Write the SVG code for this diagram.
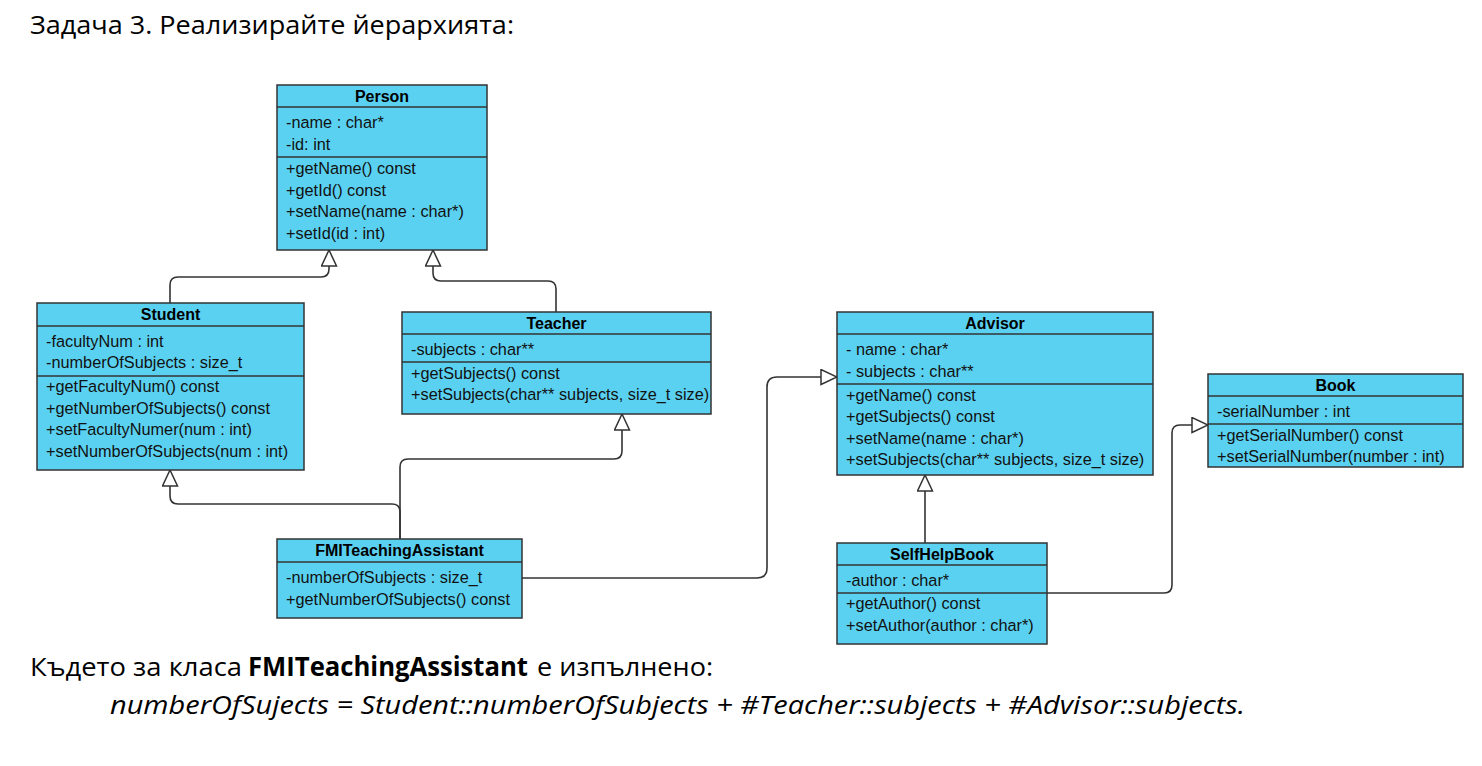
<svg xmlns="http://www.w3.org/2000/svg" width="1482" height="766" viewBox="0 0 1482 766">
<style>
.box{fill:#5BD1F1;stroke:#333333;stroke-width:1.5}
.sep{stroke:#333333;stroke-width:1.5}
.t{font-family:"Liberation Sans",Arial,sans-serif;font-size:16.3px;fill:#111111}
.h{font-family:"Liberation Sans",Arial,sans-serif;font-size:16px;font-weight:bold;fill:#000000;text-anchor:middle}
.c{fill:none;stroke:#333333;stroke-width:1.6}
.doc{font-family:"Open Sans","Noto Sans",sans-serif;font-size:26px;fill:#000000}
</style>
<defs>
<marker id="tri" markerUnits="userSpaceOnUse" markerWidth="18" markerHeight="17" refX="16" refY="7.5" orient="auto" viewBox="-1 -1 18 17">
<path d="M0,0 L16,7.5 L0,15 Z" fill="#ffffff" stroke="#333333" stroke-width="1.5"/>
</marker>
</defs>
<rect width="1482" height="766" fill="#ffffff"/>
<text class="doc" x="30" y="34" textLength="484" lengthAdjust="spacingAndGlyphs">Задача 3. Реализирайте йерархията:</text>

<g id="connectors">
<path class="c" d="M170,303 V285 Q170,277 178,277 H321 Q329,277 329,269 V250" marker-end="url(#tri)"/>
<path class="c" d="M556,312 V289 Q556,281 548,281 H441 Q433,281 433,273 V250" marker-end="url(#tri)"/>
<path class="c" d="M400,539 V467 Q400,459 408,459 H614 Q622,459 622,451 V414" marker-end="url(#tri)"/>
<path class="c" d="M400,539 V512 Q400,504 392,504 H178 Q170,504 170,496 V470" marker-end="url(#tri)"/>
<path class="c" d="M522,578 H757 Q767,578 767,568 V387 Q767,377 777,377 H837" marker-end="url(#tri)"/>
<path class="c" d="M925,543 V475" marker-end="url(#tri)"/>
<path class="c" d="M1047,593 H1164 Q1172,593 1172,585 V433 Q1172,425 1180,425 H1208" marker-end="url(#tri)"/>
</g>

<g id="Person">
<rect class="box" x="277" y="85" width="210" height="165"/>
<line class="sep" x1="277" y1="107" x2="487" y2="107"/>
<line class="sep" x1="277" y1="157" x2="487" y2="157"/>
<text class="h" x="382" y="101.5">Person</text>
<text class="t" x="286" y="128">-name : char*</text>
<text class="t" x="286" y="149.5">-id: int</text>
<text class="t" x="286" y="174">+getName() const</text>
<text class="t" x="286" y="195.5">+getId() const</text>
<text class="t" x="286" y="217">+setName(name : char*)</text>
<text class="t" x="286" y="238.5">+setId(id : int)</text>
</g>

<g id="Student">
<rect class="box" x="37" y="303" width="267" height="167"/>
<line class="sep" x1="37" y1="326" x2="304" y2="326"/>
<line class="sep" x1="37" y1="376" x2="304" y2="376"/>
<text class="h" x="170.5" y="319.5">Student</text>
<text class="t" x="46" y="347">-facultyNum : int</text>
<text class="t" x="46" y="368">-numberOfSubjects : size_t</text>
<text class="t" x="46" y="392">+getFacultyNum() const</text>
<text class="t" x="46" y="413.5">+getNumberOfSubjects() const</text>
<text class="t" x="46" y="435">+setFacultyNumer(num : int)</text>
<text class="t" x="46" y="456.5">+setNumberOfSubjects(num : int)</text>
</g>

<g id="Teacher">
<rect class="box" x="402" y="312" width="309" height="102"/>
<line class="sep" x1="402" y1="334" x2="711" y2="334"/>
<line class="sep" x1="402" y1="362" x2="711" y2="362"/>
<text class="h" x="556.5" y="328.5">Teacher</text>
<text class="t" x="411" y="355">-subjects : char**</text>
<text class="t" x="411" y="378.5">+getSubjects() const</text>
<text class="t" x="411" y="400">+setSubjects(char** subjects, size_t size)</text>
</g>

<g id="Advisor">
<rect class="box" x="837" y="312" width="316" height="163"/>
<line class="sep" x1="837" y1="334" x2="1153" y2="334"/>
<line class="sep" x1="837" y1="384" x2="1153" y2="384"/>
<text class="h" x="995" y="328.5">Advisor</text>
<text class="t" x="846" y="355">- name : char*</text>
<text class="t" x="846" y="376.5">- subjects : char**</text>
<text class="t" x="846" y="400.5">+getName() const</text>
<text class="t" x="846" y="422">+getSubjects() const</text>
<text class="t" x="846" y="443.5">+setName(name : char*)</text>
<text class="t" x="846" y="465">+setSubjects(char** subjects, size_t size)</text>
</g>

<g id="Book">
<rect class="box" x="1208" y="374" width="255" height="93"/>
<line class="sep" x1="1208" y1="396" x2="1463" y2="396"/>
<line class="sep" x1="1208" y1="424" x2="1463" y2="424"/>
<text class="h" x="1335.5" y="390.5">Book</text>
<text class="t" x="1217" y="417">-serialNumber : int</text>
<text class="t" x="1217" y="440.5">+getSerialNumber() const</text>
<text class="t" x="1217" y="462">+setSerialNumber(number : int)</text>
</g>

<g id="FMITeachingAssistant">
<rect class="box" x="277" y="539" width="245" height="79"/>
<line class="sep" x1="277" y1="562" x2="522" y2="562"/>
<text class="h" x="399.5" y="555.5">FMITeachingAssistant</text>
<text class="t" x="286" y="583">-numberOfSubjects : size_t</text>
<text class="t" x="286" y="604.5">+getNumberOfSubjects() const</text>
</g>

<g id="SelfHelpBook">
<rect class="box" x="837" y="543" width="210" height="101"/>
<line class="sep" x1="837" y1="565" x2="1047" y2="565"/>
<line class="sep" x1="837" y1="593" x2="1047" y2="593"/>
<text class="h" x="942" y="559.5">SelfHelpBook</text>
<text class="t" x="846" y="586">-author : char*</text>
<text class="t" x="846" y="609">+getAuthor() const</text>
<text class="t" x="846" y="630.5">+setAuthor(author : char*)</text>
</g>

<text class="doc" x="30" y="676" textLength="212" lengthAdjust="spacingAndGlyphs">Където за класа</text>
<text class="doc" x="248" y="676" font-weight="bold" textLength="280" lengthAdjust="spacingAndGlyphs">FMITeachingAssistant</text>
<text class="doc" x="537" y="676" textLength="176" lengthAdjust="spacingAndGlyphs">е изпълнено:</text>
<text class="doc" x="110" y="714" font-style="italic" textLength="1135" lengthAdjust="spacingAndGlyphs">numberOfSujects = Student::numberOfSubjects + #Teacher::subjects + #Advisor::subjects.</text>
</svg>
